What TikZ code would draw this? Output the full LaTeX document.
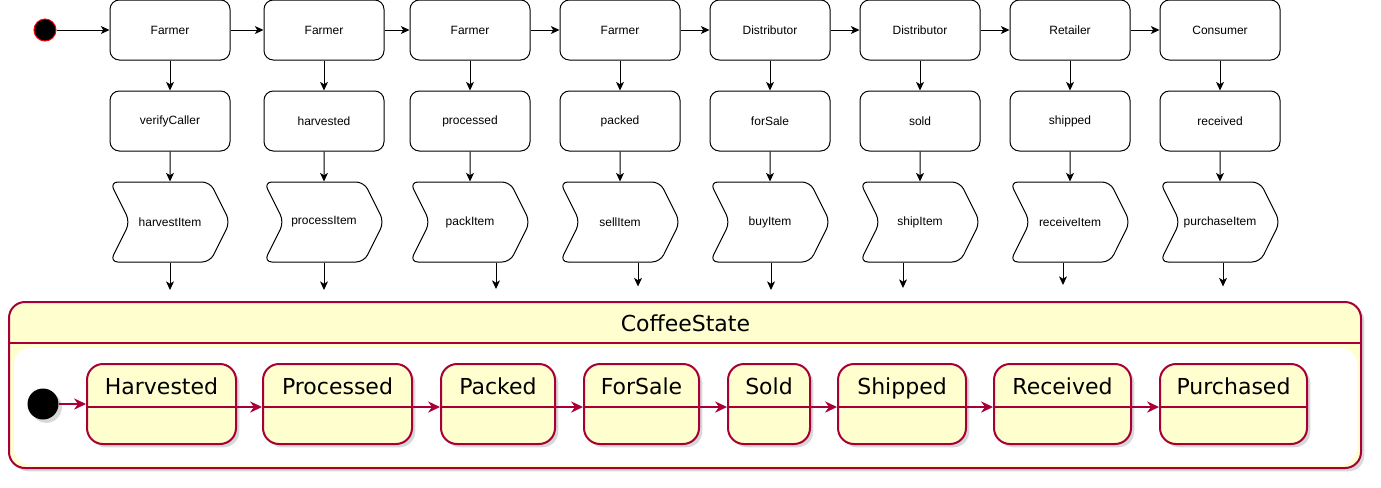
\documentclass[tikz,border=0pt]{standalone}
\usepackage{fontspec}
\setmainfont{Liberation Sans}
\newfontfamily\umlfont{DejaVu Sans}
\usetikzlibrary{positioning,shapes.symbols,arrows.meta,shadows}
\definecolor{umlred}{HTML}{A80036}
\definecolor{umlyellow}{HTML}{FEFECE}
\begin{document}
\begin{tikzpicture}[x=0.75pt, y=-0.75pt, node distance=22.5pt,
    every node/.style={font=\fontsize{9}{11}\selectfont},
    stepBox/.style={shape=rectangle, rounded corners=7pt, draw, line width=0.75pt,
                    minimum width=90pt, minimum height=45pt},
    callBox/.style={shape=signal, signal from=west, signal to=east, signal pointer angle=127,
                    rounded corners=6pt, draw, line width=0.75pt,
                    minimum width=90pt, minimum height=60pt, inner sep=0pt},
    flow/.style={-{Stealth[length=6.5pt, width=6pt, inset=1.8pt]}, line width=0.75pt},
    umlShadow/.style={drop shadow={shadow xshift=2.5pt, shadow yshift=-2.5pt, opacity=0.25, fill=black!60}},
    umlText/.style={font=\umlfont\fontsize{16.5}{20}\selectfont},
    stateBox/.style={shape=rectangle, rounded corners=12pt, draw=umlred, fill=umlyellow, line width=1.5pt,
                     umlShadow, umlText, inner ysep=10.5pt, text height=12pt, text depth=27pt,
                     path picture={\draw[umlred, line width=1.5pt]
                       ([yshift=-32.25pt]path picture bounding box.north west) --
                       ([yshift=-32.25pt]path picture bounding box.north east);}},
    trans/.style={umlred, line width=0.9pt, -{Stealth[length=9pt, width=8.5pt, inset=3pt]}}]
  \useasboundingbox (0,0) rectangle (1381,487);

  % who calls
  \node[circle, draw=red, fill=black, line width=0.75pt, minimum size=16.5pt, inner sep=0pt] (start) at (45,30) {};
  \node[stepBox] (farmerA) at (170,30) {Farmer};
  \node[stepBox] (farmerB) at (324,30) {Farmer};
  \node[stepBox] (farmerC) at (470,30) {Farmer};
  \node[stepBox] (farmerD) at (620,30) {Farmer};
  \node[stepBox] (distribA) at (770,30) {Distributor};
  \node[stepBox] (distribB) at (920,30) {Distributor};
  \node[stepBox] (retailer) at (1070,30) {Retailer};
  \node[stepBox] (consumer) at (1220,30) {Consumer};

  % checks
  \node[stepBox, below=of farmerA] (verifyCaller) {verifyCaller};
  \node[stepBox, below=of farmerB] (harvested) {harvested};
  \node[stepBox, below=of farmerC] (processed) {processed};
  \node[stepBox, below=of farmerD] (packed) {packed};
  \node[stepBox, below=of distribA] (forSale) {forSale};
  \node[stepBox, below=of distribB] (sold) {sold};
  \node[stepBox, below=of retailer] (shipped) {shipped};
  \node[stepBox, below=of consumer] (received) {received};

  % functions
  \node[callBox, below=of verifyCaller] (harvestItem) {harvestItem};
  \node[callBox, below=of harvested] (processItem) {processItem};
  \node[callBox, below=of processed] (packItem) {packItem};
  \node[callBox, below=of packed] (sellItem) {sellItem};
  \node[callBox, below=of forSale] (buyItem) {buyItem};
  \node[callBox, below=of sold] (shipItem) {shipItem};
  \node[callBox, below=of shipped] (receiveItem) {receiveItem};
  \node[callBox, below=of received] (purchaseItem) {purchaseItem};

  \coordinate (harvestEnd) at (170,290);
  \coordinate (processEnd) at (324,290);
  \coordinate (packEnd) at (496,289);
  \coordinate (sellEnd) at (638,286.5);
  \coordinate (buyEnd) at (771,290);
  \coordinate (shipEnd) at (903,288);
  \coordinate (receiveEnd) at (1063,285);
  \coordinate (purchaseEnd) at (1223,286.5);

  \draw[flow] (start) -- (farmerA);
  \draw[flow] (farmerA) -- (farmerB);
  \draw[flow] (farmerB) -- (farmerC);
  \draw[flow] (farmerC) -- (farmerD);
  \draw[flow] (farmerD) -- (distribA);
  \draw[flow] (distribA) -- (distribB);
  \draw[flow] (distribB) -- (retailer);
  \draw[flow] (retailer) -- (consumer);

  \draw[flow] (farmerA) -- (verifyCaller);
  \draw[flow] (farmerB) -- (harvested);
  \draw[flow] (farmerC) -- (processed);
  \draw[flow] (farmerD) -- (packed);
  \draw[flow] (distribA) -- (forSale);
  \draw[flow] (distribB) -- (sold);
  \draw[flow] (retailer) -- (shipped);
  \draw[flow] (consumer) -- (received);

  \draw[flow] (verifyCaller) -- (harvestItem);
  \draw[flow] (harvested) -- (processItem);
  \draw[flow] (processed) -- (packItem);
  \draw[flow] (packed) -- (sellItem);
  \draw[flow] (forSale) -- (buyItem);
  \draw[flow] (sold) -- (shipItem);
  \draw[flow] (shipped) -- (receiveItem);
  \draw[flow] (received) -- (purchaseItem);

  \draw[flow] (harvestItem.south -| harvestEnd) -- (harvestEnd);
  \draw[flow] (processItem.south -| processEnd) -- (processEnd);
  \draw[flow] (packItem.south -| packEnd) -- (packEnd);
  \draw[flow] (sellItem.south -| sellEnd) -- (sellEnd);
  \draw[flow] (buyItem.south -| buyEnd) -- (buyEnd);
  \draw[flow] (shipItem.south -| shipEnd) -- (shipEnd);
  \draw[flow] (receiveItem.south -| receiveEnd) -- (receiveEnd);
  \draw[flow] (purchaseItem.south -| purchaseEnd) -- (purchaseEnd);

  % state machine
  \node[draw=umlred, fill=umlyellow, line width=1.5pt, rounded corners=12pt, umlShadow,
        minimum width=1014pt, minimum height=124.5pt] (coffeeState) at (685,385) {};
  \fill[white, rounded corners=12pt] (14,348) rectangle (1357,465);
  \draw[umlred, line width=1.5pt] (coffeeState.west |- 0,343) -- (coffeeState.east |- 0,343);
  \node[umlText] (coffeeTitle) at (685.5,323.5) {CoffeeState};

  \node[circle, fill=black, minimum size=23.25pt, inner sep=0pt, umlShadow] (stateStart) at (43,404) {};
  \node[stateBox, minimum width=111.75pt] (stHarvested) at (161.5,404) {Harvested};
  \node[stateBox, minimum width=111.75pt] (stProcessed) at (337.5,404) {Processed};
  \node[stateBox, minimum width=85.5pt] (stPacked) at (498,404) {Packed};
  \node[stateBox, minimum width=86.25pt] (stForSale) at (641.5,404) {ForSale};
  \node[stateBox, minimum width=61.5pt] (stSold) at (769,404) {Sold};
  \node[stateBox, minimum width=96pt] (stShipped) at (902,404) {Shipped};
  \node[stateBox, minimum width=102.75pt] (stReceived) at (1062.5,404) {Received};
  \node[stateBox, minimum width=110.25pt] (stPurchased) at (1233.5,404) {Purchased};

  \draw[trans] (stateStart.east) -- (stateStart.east -| stHarvested.west);
  \draw[trans] ([yshift=-2.25pt]stHarvested.east) -- ([yshift=-2.25pt]stProcessed.west);
  \draw[trans] ([yshift=-2.25pt]stProcessed.east) -- ([yshift=-2.25pt]stPacked.west);
  \draw[trans] ([yshift=-2.25pt]stPacked.east) -- ([yshift=-2.25pt]stForSale.west);
  \draw[trans] ([yshift=-2.25pt]stForSale.east) -- ([yshift=-2.25pt]stSold.west);
  \draw[trans] ([yshift=-2.25pt]stSold.east) -- ([yshift=-2.25pt]stShipped.west);
  \draw[trans] ([yshift=-2.25pt]stShipped.east) -- ([yshift=-2.25pt]stReceived.west);
  \draw[trans] ([yshift=-2.25pt]stReceived.east) -- ([yshift=-2.25pt]stPurchased.west);
\end{tikzpicture}
\end{document}
